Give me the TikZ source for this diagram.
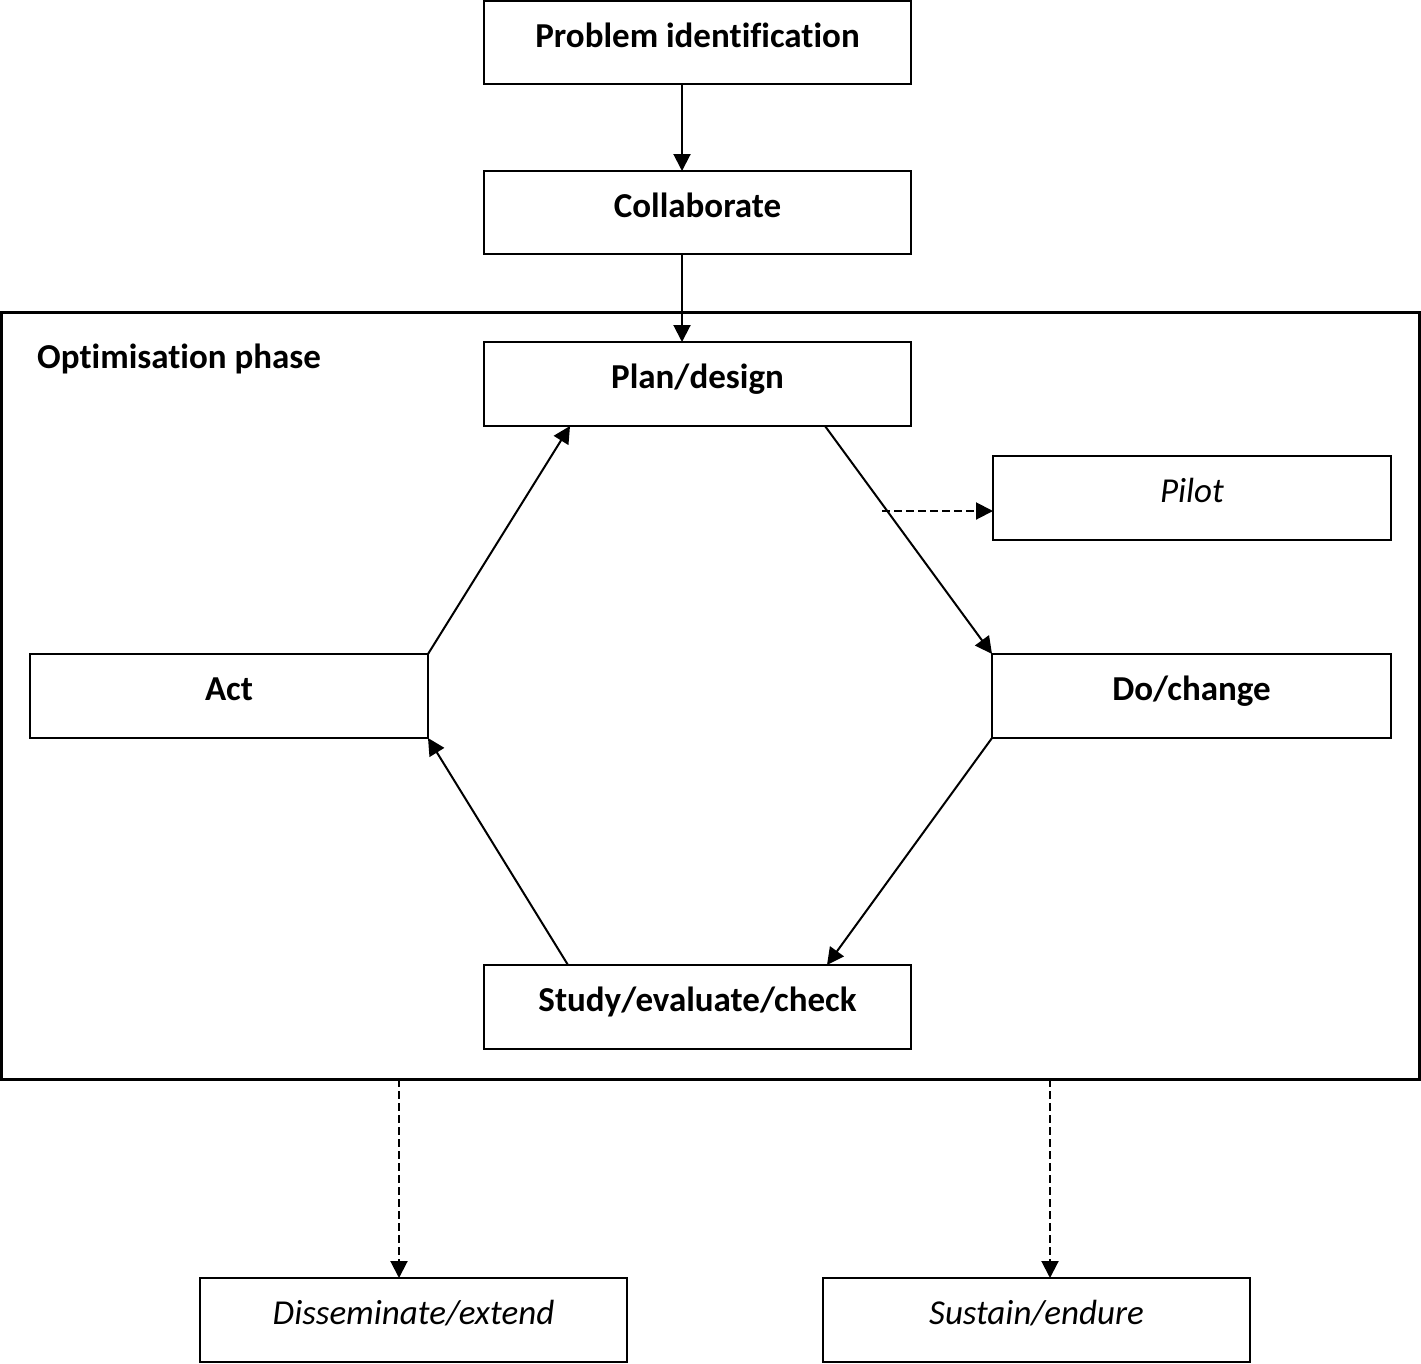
\documentclass[tikz,border=0pt]{standalone}
\usepackage{fontspec}
\setmainfont{Carlito}[Ligatures=NoCommon]
\usetikzlibrary{arrows.meta,calc}
\begin{document}
\begin{tikzpicture}[x=1pt,y=-1pt,
  box/.style={draw,line width=2pt,outer sep=0pt,inner xsep=0pt,inner ysep=0pt,
    minimum height=83pt,text height=30pt,text depth=21pt,
    font=\fontsize{35}{42}\selectfont\bfseries},
  ibox/.style={box,font=\fontsize{35}{42}\selectfont\itshape},
  conn/.style={line width=2pt,-{Triangle[length=17pt,width=17pt]}},
  dconn/.style={conn,dash pattern=on 8pt off 4pt}]
\useasboundingbox (0,0) rectangle (1421,1363);
\node[draw,line width=3pt,outer sep=0pt,minimum width=1417.8pt,minimum height=766.5pt] (frame) at (710.6,695.75) {};
\node[anchor=base west,inner sep=0pt,font=\fontsize{35}{42}\selectfont\bfseries] (optlabel) at (37,368) {Optimisation phase};
\node[box,minimum width=427pt] (prob) at (697.5,42.5) {Problem identification};
\node[box,minimum width=427pt] (collab) at (697.5,212.5) {Collaborate};
\node[box,minimum width=427pt,minimum height=84pt] (plan) at (697.5,384) {Plan/design};
\node[ibox,minimum width=398pt,minimum height=84pt] (pilot) at (1192,498) {Pilot};
\node[box,minimum width=398pt,minimum height=84pt] (act) at (229,696) {Act};
\node[box,minimum width=399pt,minimum height=84pt] (do) at (1191.5,696) {Do/change};
\node[box,minimum width=427pt,minimum height=84pt] (study) at (697.5,1007) {Study/evaluate/check};
\node[ibox,minimum width=427pt,minimum height=84pt] (dissem) at (413.5,1320) {Disseminate/extend};
\node[ibox,minimum width=427pt,minimum height=84pt] (sustain) at (1036.5,1320) {Sustain/endure};
% connectors
\draw[conn] ([xshift=-15.5pt]prob.south) -- ([xshift=-15.5pt]collab.north);
\draw[conn] ([xshift=-15.5pt]collab.south) -- ([xshift=-15.5pt]plan.north);
\draw[conn] ([xshift=-86pt]plan.south east) -- (do.north west);
\draw[conn] (do.south west) -- ([xshift=-84pt]study.north east);
\draw[conn] ([xshift=84pt]study.north west) -- (act.south east);
\draw[conn] (act.north east) -- ([xshift=86pt]plan.south west);
\coordinate (pst) at (882,511);
\draw[dconn] (pst) -- (pst -| pilot.west);
\coordinate (d1) at ([xshift=-14.5pt]dissem.north);
\coordinate (d2) at ([xshift=13.5pt]sustain.north);
\draw[dconn] (frame.south -| d1) -- (d1);
\draw[dconn] (frame.south -| d2) -- (d2);
\end{tikzpicture}
\end{document}
